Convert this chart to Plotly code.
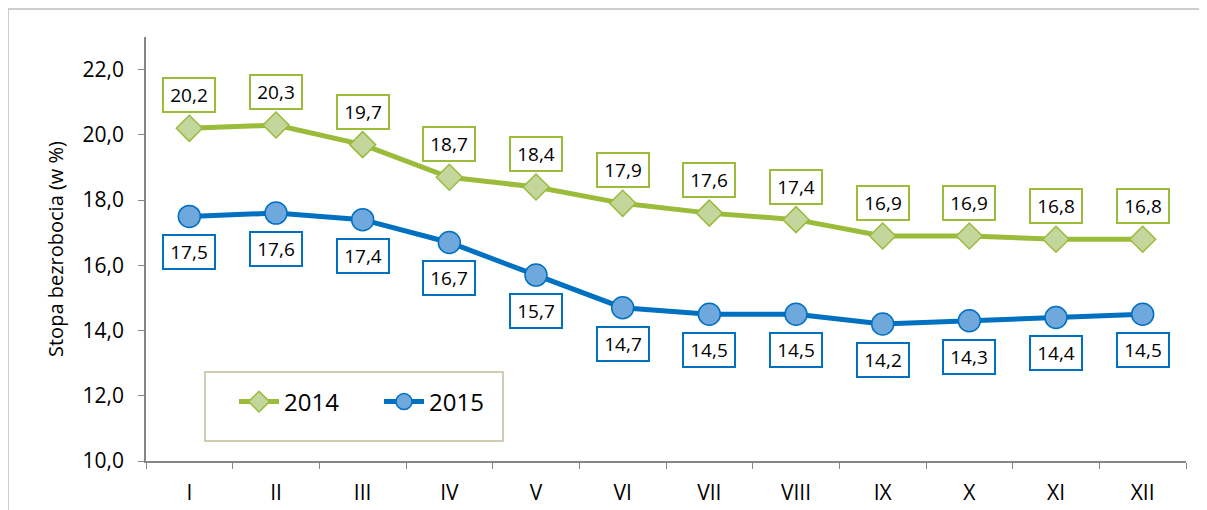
import plotly.graph_objects as go

months = ["I", "II", "III", "IV", "V", "VI", "VII", "VIII", "IX", "X", "XI", "XII"]
y2014 = [20.2, 20.3, 19.7, 18.7, 18.4, 17.9, 17.6, 17.4, 16.9, 16.9, 16.8, 16.8]
y2015 = [17.5, 17.6, 17.4, 16.7, 15.7, 14.7, 14.5, 14.5, 14.2, 14.3, 14.4, 14.5]

GREEN = "#9bbb3b"
GREEN_FILL = "#c3d69b"
BLUE = "#0070c0"
BLUE_FILL = "#6fa8dc"
FONT = "Open Sans"

W, H = 1199, 502
ML, MR, MT, MB = 138, 21, 29, 49
PW, PH = W - ML - MR, H - MT - MB

def px(xf):
    return (xf - ML) / PW

def py(yf):
    return 1 - (yf - MT) / PH

fig = go.Figure()
fig.add_trace(go.Scatter(
    x=months, y=y2014, name="2014", mode="lines+markers",
    line=dict(color=GREEN, width=5),
    marker=dict(symbol="diamond", size=20, color=GREEN_FILL, line=dict(color=GREEN, width=1.5)),
))
fig.add_trace(go.Scatter(
    x=months, y=y2015, name="2015", mode="lines+markers",
    line=dict(color=BLUE, width=5),
    marker=dict(symbol="circle", size=22, color=BLUE_FILL, line=dict(color=BLUE, width=1.5)),
))

def fmt(v):
    return f"{v:.1f}".replace(".", ",")

annotations = []
for m, v in zip(months, y2014):
    annotations.append(dict(x=m, y=v, text=fmt(v), showarrow=False, yshift=33,
                            width=44, height=26,
                            bordercolor=GREEN, borderwidth=2, borderpad=3, bgcolor="white",
                            font=dict(family=FONT, size=19, color="black")))
for m, v in zip(months, y2015):
    annotations.append(dict(x=m, y=v, text=fmt(v), showarrow=False, yshift=-36,
                            width=44, height=26,
                            bordercolor=BLUE, borderwidth=2, borderpad=3, bgcolor="white",
                            font=dict(family=FONT, size=19, color="black")))

fig.update_layout(
    width=W, height=H,
    margin=dict(l=ML, r=MR, t=MT, b=MB, autoexpand=False),
    paper_bgcolor="white", plot_bgcolor="white",
    separators=", ",
    font=dict(family=FONT, color="black"),
    showlegend=True,
    legend=dict(orientation="h", x=px(226), y=py(394), xanchor="left", yanchor="middle",
                borderwidth=0, bgcolor="rgba(0,0,0,0)",
                font=dict(family=FONT, size=24), entrywidth=90,
                itemwidth=40),
    annotations=annotations,
    shapes=[
        dict(type="rect", xref="paper", yref="paper",
             x0=px(0), x1=1.2, y0=-0.3, y1=py(1),
             line=dict(color="#bfbfbf", width=1.5), layer="below"),
        dict(type="rect", xref="paper", yref="paper",
             x0=px(197), x1=px(495), y0=py(433), y1=py(364),
             line=dict(color="#c4bd97", width=1.5), fillcolor="white", layer="below"),
    ],
)
fig.update_xaxes(
    range=[-0.5, 11.5], automargin=False,
    showgrid=False, showline=True, linecolor="#868686", linewidth=1.5,
    ticks="outside", ticklen=6, tickcolor="#868686", tickson="boundaries",
    tickfont=dict(family=FONT, size=21), ticklabelstandoff=12,
)
fig.update_yaxes(
    range=[10, 23], tickvals=[10, 12, 14, 16, 18, 20, 22], tickformat=".1f", automargin=False,
    showgrid=False, showline=True, linecolor="#868686", linewidth=1.5,
    ticks="outside", ticklen=6, tickcolor="#868686", zeroline=False,
    tickfont=dict(family=FONT, size=21), ticklabelstandoff=10,
    title=dict(text="Stopa bezrobocia (w %)", font=dict(family=FONT, size=20), standoff=14),
)

fig.write_html("out.html")
